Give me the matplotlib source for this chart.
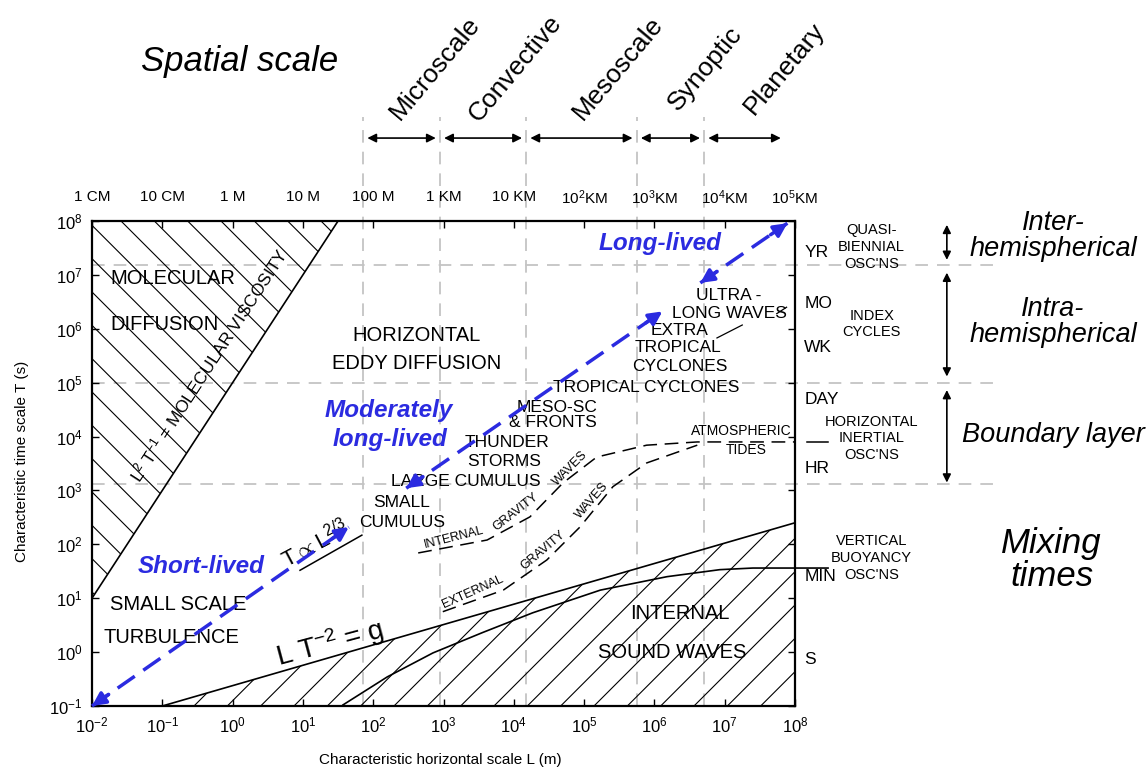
import matplotlib.pyplot as plt
import matplotlib.transforms as mtransforms
from matplotlib.ticker import NullLocator
import numpy as np

plt.rcParams['font.family'] = ['Liberation Sans', 'DejaVu Sans']
plt.rcParams['mathtext.fontset'] = 'custom'
plt.rcParams['mathtext.rm'] = 'Liberation Sans'
plt.rcParams['mathtext.it'] = 'Liberation Sans:italic'
plt.rcParams['mathtext.bf'] = 'Liberation Sans:bold'
plt.rcParams['hatch.linewidth'] = 0.8

blue = '#2b2be0'
grey = '#c4c4c4'

# top axis: length scale names (L in m)
top_L = 10.0 ** np.arange(-2, 9)
top_labels = ['1 CM', '10 CM', '1 M', '10 M', '100 M', '1 KM', '10 KM',
              r'10$^2$KM', r'10$^3$KM', r'10$^4$KM', r'10$^5$KM']

# spatial scale classes, edges in m
scale_names = ['Microscale', 'Convective', 'Mesoscale', 'Synoptic', 'Planetary']
scale_edges = [72, 890, 1.5e4, 5.6e5, 5.1e6, 7.2e7]
scale_label_L = [760, 1.05e4, 3.0e5, 5.2e6, 7.2e7]

# mixing time classes, T in s
mixing_edges = [1.5e7, 1.0e5, 1.3e3]
mixing_top = [8.5e7, 1.1e7, 7.3e4]
mixing_bot = [1.9e7, 1.3e5, 1.4e3]
mixing_names = ['Inter-\nhemispherical', 'Intra-\nhemispherical', 'Boundary layer']
mixing_label_T = [5.2e7, 1.35e6, 1.07e4]

# time unit marks on the right side
unit_names = ['YR', 'MO', 'WK', 'DAY', 'HR', 'MIN', 'S']
unit_T = [2.6e7, 3.0e6, 4.4e5, 4.8e4, 2.6e3, 25, 0.72]

# right side phenomena
osc_names = ["QUASI-\nBIENNIAL\nOSC'NS", 'INDEX\nCYCLES',
             "HORIZONTAL\nINERTIAL\nOSC'NS", "VERTICAL\nBUOYANCY\nOSC'NS"]
osc_T = [3.3e7, 1.23e6, 9.3e3, 56]

# molecular viscosity line, L^2/T = nu
nu = 1e-5
L_visc = np.array([1e-2, np.sqrt(1e8 * nu)])
T_visc = L_visc ** 2 / nu

# L T^-2 = g line as drawn
L_grav = np.array([1e-1, 1e8])
T_grav = np.array([1e-1, 10 ** 2.4])

# buoyancy curve (lower solid curve)
L_buoy = 10 ** np.array([1.57, 2.2, 2.85, 3.55, 4.27, 5.23, 6.18, 6.93, 7.4, 8.0, 8.47])
T_buoy = 10 ** np.array([-0.98, -0.46, -0.015, 0.36, 0.73, 1.15, 1.40, 1.53, 1.56, 1.56, 1.56])

# internal / external gravity waves (dashed)
L_igw = 10 ** np.array([2.64, 3.62, 4.23, 4.70, 5.18, 5.89, 6.61, 8.0])
T_igw = 10 ** np.array([1.84, 2.08, 2.51, 3.14, 3.62, 3.84, 3.90, 3.90])
L_egw = 10 ** np.array([2.99, 3.85, 4.47, 4.94, 5.41, 5.89, 6.61])
T_egw = 10 ** np.array([0.75, 1.15, 1.71, 2.32, 3.07, 3.51, 3.84])

# T ~ L^2/3 segment
L_23 = np.array([9.1, 69])
T_23 = np.array([33, 148])

# blue lifetime arrows (start L, start T, end L, end T)
life_arrows = [(1e-2, 1e-1, 45, 209),
               (295, 1.1e3, 1.3e6, 2.1e6),
               (4.5e6, 7.1e6, 7.8e7, 9.1e7)]

fig = plt.figure(figsize=(11.47, 7.69), dpi=100)
ax = fig.add_axes([92 / 1147, 1 - 706 / 769, 703 / 1147, 485 / 769])
ax.set_xscale('log')
ax.set_yscale('log')
ax.set_xlim(1e-2, 1e8)
ax.set_ylim(1e-1, 1e8)
ax.set_xticks(top_L)
ax.set_yticks(10.0 ** np.arange(-1, 9))
ax.xaxis.set_minor_locator(NullLocator())
ax.yaxis.set_minor_locator(NullLocator())
ax.tick_params(which='major', direction='in', length=5, width=1,
               top=True, right=True, labelsize=12, pad=7)
for s in ax.spines.values():
    s.set_linewidth(1.6)

ax.set_xlabel('Characteristic horizontal scale L (m)', fontsize=11)
ax.set_ylabel('Characteristic time scale T (s)', fontsize=11)
ax.xaxis.set_label_coords(0.495, -0.097)
ax.yaxis.set_label_coords(-0.09, 0.505)

tx = mtransforms.blended_transform_factory(ax.transData, ax.transAxes)
ty = mtransforms.blended_transform_factory(ax.transAxes, ax.transData)

# grey dashed guides
for L in scale_edges[:-1]:
    ax.plot([L, L], [0, 1.214], transform=tx, color=grey, lw=1.3,
            dashes=(7, 5), clip_on=False, zorder=0)
for T in mixing_edges:
    ax.plot([0, 1.282], [T, T], transform=ty, color=grey, lw=1.3,
            dashes=(7, 5), clip_on=False, zorder=0)

# top scale labels and arrows
for L, lab in zip(top_L, top_labels):
    ax.text(L, 1.049, lab, transform=tx, ha='center', va='center', fontsize=11)
for i, name in enumerate(scale_names):
    ax.annotate('', xy=(scale_edges[i + 1], 1.171), xytext=(scale_edges[i], 1.171),
                xycoords=tx, textcoords=tx,
                arrowprops=dict(arrowstyle='<|-|>', color='k', lw=1.2,
                                mutation_scale=13, shrinkA=3, shrinkB=3))
    ax.text(scale_label_L[i], 1.315, name, transform=tx, ha='center',
            va='center', rotation=50, fontsize=19)
ax.text(1.27, 1.328, 'Spatial scale', transform=tx, ha='center', va='center',
        fontsize=25, style='italic')

# right side: mixing times
for top, bot, name, T in zip(mixing_top, mixing_bot, mixing_names, mixing_label_T):
    ax.annotate('', xy=(1.216, bot), xytext=(1.216, top), xycoords=ty, textcoords=ty,
                arrowprops=dict(arrowstyle='<|-|>', color='k', lw=1.2,
                                mutation_scale=12, shrinkA=0, shrinkB=0))
    ax.text(1.367, T, name, transform=ty, ha='center', va='center',
            fontsize=19.5, style='italic', linespacing=1.0)
ax.text(1.365, 51, 'Mixing\ntimes', transform=ty, ha='center', va='center',
        fontsize=25, style='italic', linespacing=1.0)

for name, T in zip(unit_names, unit_T):
    ax.text(1.013, T, name, transform=ty, ha='left', va='center', fontsize=12.5)
for name, T in zip(osc_names, osc_T):
    lines = name.split('\n')
    n = len(lines)
    for j, line in enumerate(lines):
        ax.annotate(line, xy=(1.109, T), xycoords=ty,
                    xytext=(0, 12 * ((n - 1) / 2 - j)), textcoords='offset points',
                    ha='center', va='center', fontsize=10.5)

# hatched regions and boundary lines
ax.fill_between(L_visc, T_visc, 1e8, facecolor='none', edgecolor='k',
                hatch='\\', linewidth=0, zorder=1)
ax.plot(L_visc, T_visc, color='k', lw=1.2)
ax.fill_between(L_grav, 1e-1, T_grav, facecolor='none', edgecolor='k',
                hatch='/', linewidth=0, zorder=1)
ax.plot(L_grav, T_grav, color='k', lw=1.2)
ax.plot(L_buoy, T_buoy, color='k', lw=1.2, clip_on=False)

ax.plot(L_igw, T_igw, color='k', lw=1.1, dashes=(9, 5))
ax.plot(L_egw, T_egw, color='k', lw=1.1, dashes=(9, 5))
ax.plot([10 ** 8.17, 10 ** 8.47], [T_igw[-1], T_igw[-1]], color='k', lw=1.1,
        clip_on=False)
ax.plot(L_23, T_23, color='k', lw=1.1)
ax.plot([10 ** 6.89, 10 ** 7.25], [10 ** 5.83, 10 ** 6.07], color='k', lw=0.9)
ax.plot([10 ** 7.74, 10 ** 7.88], [10 ** 6.28, 10 ** 6.4], color='k', lw=0.9)

# blue lifetime arrows
for L0, T0, L1, T1 in life_arrows:
    ax.plot([L0, L1], [T0, T1], color=blue, lw=2.5, dashes=(6, 3),
            clip_on=False, zorder=4)
    p0 = np.log10([L0, T0])
    p1 = np.log10([L1, T1])
    d = (p1 - p0) / np.hypot(*(p1 - p0))
    for tip, back in ((p1, p1 - 0.32 * d), (p0, p0 + 0.32 * d)):
        ax.annotate('', xy=tuple(10 ** tip), xytext=tuple(10 ** back),
                    arrowprops=dict(arrowstyle='-|>', color=blue, lw=2.5,
                                    mutation_scale=20, shrinkA=0, shrinkB=0),
                    annotation_clip=False, zorder=4)

lab_kw = dict(fontsize=17.5, color=blue, weight='bold', style='italic',
              ha='center', va='center')
ax.text(1.2e6, 3.9e7, 'Long-lived', **lab_kw)
ax.text(166, 3.1e4, 'Moderately', **lab_kw)
ax.text(174, 8.7e3, 'long-lived', **lab_kw)
ax.text(0.36, 38, 'Short-lived', **lab_kw)

# region names
big = dict(fontsize=14.5, va='center')
ax.text(0.018, 8.7e6, 'MOLECULAR', ha='left', **big)
ax.text(0.018, 1.2e6, 'DIFFUSION', ha='left', **big)
ax.text(415, 7.4e5, 'HORIZONTAL', ha='center', **big)
ax.text(415, 2.3e5, 'EDDY DIFFUSION', ha='center', **big)
ax.text(0.018, 7.5, 'SMALL SCALE', ha='left', **big)
ax.text(0.0144, 1.9, 'TURBULENCE', ha='left', **big)
ax.text(2.3e6, 5.3, 'INTERNAL', ha='center', **big)
ax.text(1.8e6, 0.97, 'SOUND WAVES', ha='center', **big)

mid = dict(fontsize=12.5, ha='center', va='center')
ax.text(257, 590, 'SMALL', **mid)
ax.text(257, 250, 'CUMULUS', **mid)
ax.text(2.1e3, 1.45e3, 'LARGE CUMULUS', **mid)
ax.text(8.0e3, 7.6e3, 'THUNDER', **mid)
ax.text(7.4e3, 3.5e3, 'STORMS', **mid)
ax.text(4.1e4, 3.5e4, 'MESO-SC', **mid)
ax.text(3.6e4, 1.8e4, '& FRONTS', **mid)
ax.text(7.6e5, 8.3e4, 'TROPICAL CYCLONES', **mid)
ax.text(2.3e6, 9.1e5, 'EXTRA', **mid)
ax.text(2.2e6, 4.4e5, 'TROPICAL', **mid)
ax.text(2.3e6, 2.0e5, 'CYCLONES', **mid)
ax.text(1.15e7, 4.1e6, 'ULTRA -', **mid)
ax.text(1.15e7, 1.95e6, 'LONG WAVES', **mid)
ax.text(1.7e7, 1.25e4, 'ATMOSPHERIC', fontsize=10, ha='center', va='center')
ax.text(2.0e7, 5.6e3, 'TIDES', fontsize=10, ha='center', va='center')

small = dict(fontsize=9, ha='center', va='center', rotation_mode='anchor')
ax.text(1.4e3, 132, 'INTERNAL', rotation=14, **small)
ax.text(1.05e4, 400, 'GRAVITY', rotation=38, **small)
ax.text(6.3e4, 2.6e3, 'WAVES', rotation=45, **small)
ax.text(2.6e3, 13, 'EXTERNAL', rotation=24, **small)
ax.text(2.6e4, 76, 'GRAVITY', rotation=40, **small)
ax.text(1.3e5, 650, 'WAVES', rotation=49, **small)

ax.text(0.45, 2.1e5, r'L$^2$ T$^{-1}$ = MOLECULAR VISCOSITY', fontsize=12.5,
        rotation=57, ha='center', va='center', rotation_mode='anchor')
ax.text(24, 1.48, r'L T$^{-2}$ = g', fontsize=20, rotation=15,
        ha='center', va='center', rotation_mode='anchor')
ax.text(15, 98, r'T$\propto$L$^{2/3}$', fontsize=16, rotation=28,
        ha='center', va='center', rotation_mode='anchor')

fig.savefig('out.png', dpi=100)
